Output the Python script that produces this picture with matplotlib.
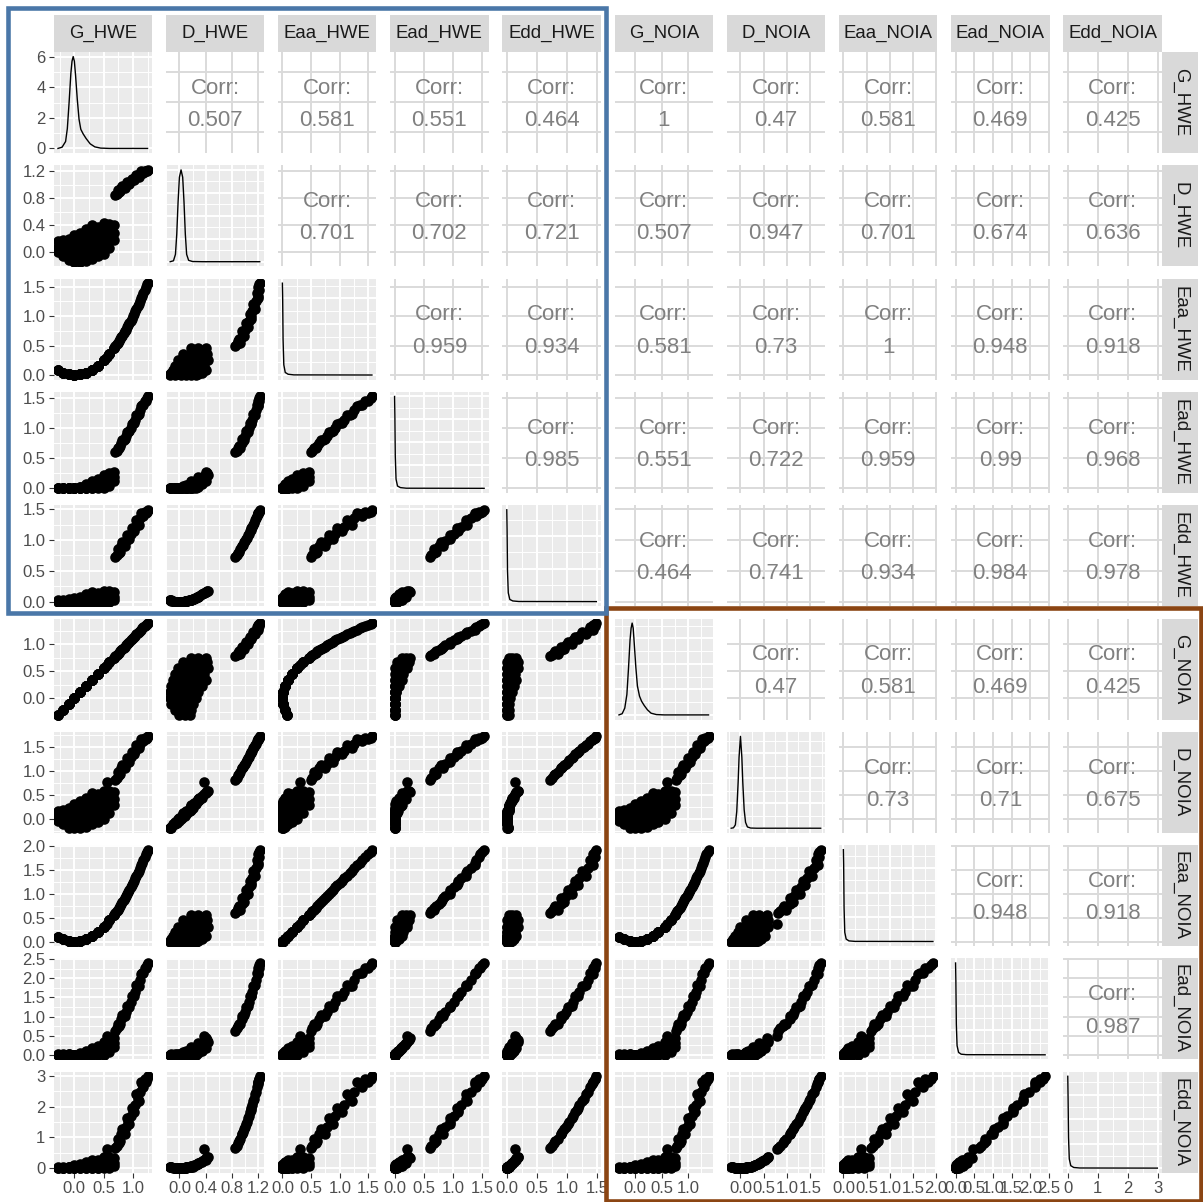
import matplotlib.pyplot as plt
from matplotlib.patches import Rectangle
from matplotlib.ticker import MaxNLocator

plt.rcParams['font.family'] = ['Liberation Sans', 'DejaVu Sans']

var_names = ['G_HWE', 'D_HWE', 'Eaa_HWE', 'Ead_HWE', 'Edd_HWE',
             'G_NOIA', 'D_NOIA', 'Eaa_NOIA', 'Ead_NOIA', 'Edd_NOIA']

# sampled rows: main cluster (first 54), then the high group (29 rows)
G_HWE = [-0.28, -0.28, -0.28,
         -0.2, -0.2, -0.2, -0.2,
         -0.1, -0.1, -0.1, -0.1, -0.1,
         0.0, 0.0, 0.0, 0.0, 0.0, 0.0,
         0.1, 0.1, 0.1, 0.1, 0.1, 0.1,
         0.2, 0.2, 0.2, 0.2, 0.2, 0.2,
         0.3, 0.3, 0.3, 0.3, 0.3, 0.3,
         0.4, 0.4, 0.4, 0.4, 0.4,
         0.5, 0.5, 0.5, 0.5, 0.5,
         0.6, 0.6, 0.6, 0.6,
         0.68, 0.68, 0.68, 0.55,
         0.70, 0.74, 0.78, 0.82, 0.86, 0.90, 0.94, 0.98, 1.02, 1.06, 1.10, 1.14, 1.18, 1.22, 1.25,
         0.72, 0.76, 0.80, 0.84, 0.88, 0.92, 0.96, 1.00, 1.04, 1.08, 1.12, 1.16, 1.20, 1.24]
D_HWE = [0.00, 0.08, 0.16,
         -0.06, 0.02, 0.10, 0.18,
         -0.12, -0.04, 0.04, 0.12, 0.20,
         -0.14, -0.06, 0.02, 0.10, 0.18, 0.25,
         -0.14, -0.06, 0.03, 0.12, 0.21, 0.29,
         -0.13, -0.04, 0.05, 0.14, 0.24, 0.34,
         -0.10, 0.00, 0.10, 0.20, 0.30, 0.40,
         -0.06, 0.05, 0.16, 0.27, 0.38,
         -0.02, 0.10, 0.22, 0.34, 0.43,
         0.06, 0.18, 0.30, 0.42,
         0.18, 0.28, 0.40, 0.38,
         0.85, 0.92, 0.90, 0.98, 0.95, 1.04, 1.01, 1.09, 1.07, 1.15, 1.12, 1.20, 1.18, 1.20, 1.22,
         0.87, 0.89, 0.95, 0.96, 0.99, 1.02, 1.05, 1.08, 1.10, 1.13, 1.16, 1.19, 1.21, 1.21]
Eaa_HWE = [0.08, 0.08, 0.08,
           0.04, 0.04, 0.04, 0.04,
           0.01, 0.01, 0.01, 0.01, 0.01,
           0.00, 0.00, 0.00, 0.00, 0.00, 0.00,
           0.01, 0.01, 0.01, 0.01, 0.01, 0.01,
           0.04, 0.04, 0.04, 0.04, 0.04, 0.04,
           0.09, 0.09, 0.09, 0.09, 0.09, 0.09,
           0.16, 0.16, 0.16, 0.16, 0.16,
           0.25, 0.25, 0.25, 0.25, 0.25,
           0.36, 0.36, 0.36, 0.36,
           0.46, 0.46, 0.46, 0.30,
           0.49, 0.55, 0.61, 0.67, 0.74, 0.81, 0.88, 0.96, 1.04, 1.12, 1.21, 1.30, 1.39, 1.49, 1.56,
           0.52, 0.58, 0.64, 0.71, 0.77, 0.85, 0.92, 1.00, 1.08, 1.17, 1.25, 1.35, 1.44, 1.54]
Ead_HWE = [0.00, 0.00, 0.00,
           0.01, 0.00, 0.00, 0.00,
           0.01, 0.00, 0.00, 0.00, 0.00,
           0.00, 0.00, 0.00, 0.00, 0.00, 0.00,
           0.00, 0.00, 0.00, 0.01, 0.02, 0.03,
           0.00, 0.00, 0.01, 0.03, 0.05, 0.07,
           0.00, 0.00, 0.03, 0.06, 0.09, 0.12,
           0.00, 0.02, 0.06, 0.11, 0.15,
           0.00, 0.05, 0.11, 0.17, 0.22,
           0.04, 0.11, 0.18, 0.25,
           0.12, 0.19, 0.27, 0.21,
           0.60, 0.68, 0.70, 0.80, 0.82, 0.94, 0.95, 1.07, 1.09, 1.22, 1.23, 1.37, 1.39, 1.46, 1.53,
           0.63, 0.68, 0.76, 0.81, 0.87, 0.94, 1.01, 1.08, 1.14, 1.22, 1.30, 1.38, 1.45, 1.50]
Edd_HWE = [0.00, 0.01, 0.03,
           0.00, 0.00, 0.01, 0.03,
           0.01, 0.00, 0.00, 0.01, 0.04,
           0.02, 0.00, 0.00, 0.01, 0.03, 0.06,
           0.02, 0.00, 0.00, 0.01, 0.04, 0.08,
           0.02, 0.00, 0.00, 0.02, 0.06, 0.12,
           0.01, 0.00, 0.01, 0.04, 0.09, 0.16,
           0.00, 0.00, 0.03, 0.07, 0.14,
           0.00, 0.01, 0.05, 0.12, 0.18,
           0.00, 0.03, 0.09, 0.18,
           0.03, 0.08, 0.16, 0.14,
           0.72, 0.85, 0.81, 0.96, 0.90, 1.08, 1.02, 1.19, 1.14, 1.32, 1.25, 1.44, 1.39, 1.44, 1.49,
           0.76, 0.79, 0.90, 0.92, 0.98, 1.04, 1.10, 1.17, 1.21, 1.28, 1.35, 1.42, 1.46, 1.46]
G_NOIA = [-0.31, -0.31, -0.31,
          -0.22, -0.22, -0.22, -0.22,
          -0.11, -0.11, -0.11, -0.11, -0.11,
          0.00, 0.00, 0.00, 0.00, 0.00, 0.00,
          0.11, 0.11, 0.11, 0.11, 0.11, 0.11,
          0.22, 0.22, 0.22, 0.22, 0.22, 0.22,
          0.33, 0.33, 0.33, 0.33, 0.33, 0.33,
          0.44, 0.44, 0.44, 0.44, 0.44,
          0.56, 0.56, 0.56, 0.56, 0.56,
          0.67, 0.67, 0.67, 0.67,
          0.75, 0.75, 0.75, 0.61,
          0.78, 0.82, 0.87, 0.91, 0.95, 1.00, 1.04, 1.09, 1.13, 1.18, 1.22, 1.27, 1.31, 1.35, 1.39,
          0.80, 0.84, 0.89, 0.93, 0.98, 1.02, 1.07, 1.11, 1.15, 1.20, 1.24, 1.29, 1.33, 1.38]
D_NOIA = [-0.05, 0.06, 0.16,
          -0.12, -0.01, 0.09, 0.19,
          -0.19, -0.08, 0.02, 0.13, 0.23,
          -0.20, -0.10, 0.01, 0.11, 0.21, 0.31,
          -0.19, -0.09, 0.03, 0.15, 0.26, 0.37,
          -0.17, -0.05, 0.07, 0.18, 0.31, 0.44,
          -0.12, 0.01, 0.14, 0.27, 0.40, 0.53,
          -0.06, 0.09, 0.23, 0.37, 0.51,
          0.00, 0.16, 0.32, 0.47, 0.59,
          0.12, 0.27, 0.43, 0.59,
          0.28, 0.41, 0.57, 0.78,
          0.81, 0.98, 0.93, 1.13, 1.06, 1.28, 1.20, 1.40, 1.35, 1.55, 1.48, 1.68, 1.63, 1.68, 1.73,
          0.86, 0.91, 1.06, 1.08, 1.16, 1.23, 1.30, 1.38, 1.43, 1.50, 1.58, 1.65, 1.70, 1.70]
Eaa_NOIA = [0.10, 0.10, 0.10,
            0.05, 0.05, 0.05, 0.05,
            0.01, 0.01, 0.01, 0.01, 0.01,
            0.00, 0.00, 0.00, 0.00, 0.00, 0.00,
            0.01, 0.01, 0.01, 0.01, 0.01, 0.01,
            0.05, 0.05, 0.05, 0.05, 0.05, 0.05,
            0.11, 0.11, 0.11, 0.11, 0.11, 0.11,
            0.19, 0.19, 0.19, 0.19, 0.19,
            0.31, 0.31, 0.31, 0.31, 0.31,
            0.45, 0.45, 0.45, 0.45,
            0.56, 0.56, 0.56, 0.37,
            0.60, 0.67, 0.75, 0.83, 0.91, 1.00, 1.09, 1.18, 1.28, 1.38, 1.49, 1.60, 1.72, 1.83, 1.93,
            0.64, 0.71, 0.79, 0.87, 0.95, 1.04, 1.14, 1.23, 1.33, 1.44, 1.55, 1.66, 1.77, 1.89]
Ead_NOIA = [0.02, 0.00, 0.00,
            0.03, 0.00, 0.00, 0.00,
            0.02, 0.01, 0.00, 0.00, 0.00,
            0.00, 0.00, 0.00, 0.00, 0.00, 0.00,
            0.00, 0.00, 0.00, 0.02, 0.03, 0.04,
            0.00, 0.00, 0.02, 0.04, 0.07, 0.10,
            0.00, 0.00, 0.05, 0.09, 0.13, 0.17,
            0.00, 0.04, 0.10, 0.16, 0.22,
            0.00, 0.09, 0.18, 0.26, 0.33,
            0.08, 0.18, 0.29, 0.40,
            0.21, 0.31, 0.43, 0.48,
            0.63, 0.80, 0.81, 1.03, 1.01, 1.28, 1.26, 1.53, 1.53, 1.83, 1.81, 2.12, 2.13, 2.27, 2.40,
            0.69, 0.76, 0.94, 1.01, 1.13, 1.26, 1.39, 1.53, 1.65, 1.80, 1.96, 2.13, 2.27, 2.34]
Edd_NOIA = [0.00, 0.00, 0.03,
            0.01, 0.00, 0.01, 0.04,
            0.04, 0.01, 0.00, 0.02, 0.05,
            0.04, 0.01, 0.00, 0.01, 0.04, 0.09,
            0.04, 0.01, 0.00, 0.02, 0.07, 0.14,
            0.03, 0.00, 0.00, 0.03, 0.10, 0.19,
            0.01, 0.00, 0.02, 0.07, 0.16, 0.28,
            0.00, 0.01, 0.05, 0.14, 0.26,
            0.00, 0.03, 0.10, 0.22, 0.35,
            0.01, 0.07, 0.18, 0.35,
            0.08, 0.17, 0.32, 0.61,
            0.65, 0.96, 0.87, 1.28, 1.11, 1.64, 1.45, 1.97, 1.83, 2.41, 2.19, 2.82, 2.65, 2.82, 2.99,
            0.73, 0.83, 1.11, 1.17, 1.33, 1.51, 1.70, 1.90, 2.04, 2.26, 2.49, 2.73, 2.90, 2.89]

# density curves on the diagonal (x in variable units, y = density)
dens_G_HWE_x = [-0.28, -0.21, -0.15, -0.12, -0.09, -0.06, -0.04, -0.02, 0.0, 0.02, 0.05, 0.08,
                0.11, 0.15, 0.2, 0.27, 0.35, 0.45, 0.6, 1.25]
dens_G_HWE_y = [0.0, 0.08, 0.45, 1.3, 3.0, 4.9, 5.7, 6.0, 5.7, 4.8, 3.2, 1.9,
                1.25, 0.95, 0.65, 0.3, 0.1, 0.02, 0.0, 0.0]
dens_D_HWE_x = [-0.14, -0.09, -0.06, -0.04, -0.02, 0.0, 0.025, 0.05, 0.07, 0.09, 0.11, 0.14,
                0.2, 0.35, 1.22]
dens_D_HWE_y = [0.0, 0.1, 0.8, 3.0, 6.5, 9.2, 10.0, 9.2, 6.5, 3.0, 0.8, 0.15, 0.02, 0.0, 0.0]
dens_Eaa_HWE_x = [0.0, 0.005, 0.012, 0.025, 0.05, 0.1, 0.2, 1.56]
dens_Eaa_HWE_y = [36.0, 30.0, 14.0, 4.0, 1.0, 0.3, 0.05, 0.0]
dens_Ead_HWE_x = [0.0, 0.005, 0.012, 0.025, 0.05, 0.1, 0.2, 1.53]
dens_Ead_HWE_y = [40.0, 32.0, 14.0, 4.0, 1.0, 0.3, 0.05, 0.0]
dens_Edd_HWE_x = [0.0, 0.005, 0.012, 0.025, 0.05, 0.1, 0.2, 1.49]
dens_Edd_HWE_y = [42.0, 33.0, 14.0, 4.0, 1.0, 0.3, 0.05, 0.0]
dens_G_NOIA_x = [-0.31, -0.25, -0.2, -0.16, -0.13, -0.1, -0.08, -0.06, -0.04, -0.02, 0.01, 0.04,
                 0.08, 0.12, 0.17, 0.23, 0.3, 0.4, 0.55, 1.39]
dens_G_NOIA_y = [0.0, 0.07, 0.4, 1.2, 2.7, 4.4, 5.1, 5.4, 5.1, 4.2, 2.8, 1.7,
                 1.1, 0.8, 0.55, 0.3, 0.1, 0.02, 0.0, 0.0]
dens_D_NOIA_x = [-0.20, -0.15, -0.11, -0.08, -0.05, -0.03, 0.0, 0.03, 0.05, 0.08, 0.11, 0.15,
                 0.22, 0.35, 1.73]
dens_D_NOIA_y = [0.0, 0.05, 0.4, 2.0, 5.5, 8.5, 11.0, 8.5, 5.5, 2.2, 0.7, 0.15, 0.02, 0.0, 0.0]
dens_Eaa_NOIA_x = [0.0, 0.006, 0.015, 0.03, 0.06, 0.12, 0.25, 1.93]
dens_Eaa_NOIA_y = [30.0, 25.0, 11.0, 3.0, 0.8, 0.2, 0.04, 0.0]
dens_Ead_NOIA_x = [0.0, 0.008, 0.02, 0.04, 0.08, 0.15, 0.3, 2.40]
dens_Ead_NOIA_y = [30.0, 24.0, 10.0, 3.0, 0.8, 0.2, 0.04, 0.0]
dens_Edd_NOIA_x = [0.0, 0.01, 0.025, 0.05, 0.1, 0.2, 0.4, 2.99]
dens_Edd_NOIA_y = [30.0, 23.0, 10.0, 3.0, 0.8, 0.2, 0.04, 0.0]

# axis breaks per variable
ticks_G = [0.0, 0.5, 1.0]
ticks_D_HWE = [0.0, 0.4, 0.8, 1.2]
ticks_E15 = [0.0, 0.5, 1.0, 1.5]
ticks_Eaa_NOIA = [0.0, 0.5, 1.0, 1.5, 2.0]
ticks_Ead_NOIA = [0.0, 0.5, 1.0, 1.5, 2.0, 2.5]
ticks_Edd_NOIA = [0, 1, 2, 3]
dens_ticks_top = [0, 2, 4, 6]

# correlation labels (upper triangle, row by row)
corr_G_HWE = ['0.507', '0.581', '0.551', '0.464', '1', '0.47', '0.581', '0.469', '0.425']
corr_D_HWE = ['0.701', '0.702', '0.721', '0.507', '0.947', '0.701', '0.674', '0.636']
corr_Eaa_HWE = ['0.959', '0.934', '0.581', '0.73', '1', '0.948', '0.918']
corr_Ead_HWE = ['0.985', '0.551', '0.722', '0.959', '0.99', '0.968']
corr_Edd_HWE = ['0.464', '0.741', '0.934', '0.984', '0.978']
corr_G_NOIA = ['0.47', '0.581', '0.469', '0.425']
corr_D_NOIA = ['0.73', '0.71', '0.675']
corr_Eaa_NOIA = ['0.948', '0.918']
corr_Ead_NOIA = ['0.987']

columns = [G_HWE, D_HWE, Eaa_HWE, Ead_HWE, Edd_HWE, G_NOIA, D_NOIA, Eaa_NOIA, Ead_NOIA, Edd_NOIA]
dens = [(dens_G_HWE_x, dens_G_HWE_y), (dens_D_HWE_x, dens_D_HWE_y),
        (dens_Eaa_HWE_x, dens_Eaa_HWE_y), (dens_Ead_HWE_x, dens_Ead_HWE_y),
        (dens_Edd_HWE_x, dens_Edd_HWE_y), (dens_G_NOIA_x, dens_G_NOIA_y),
        (dens_D_NOIA_x, dens_D_NOIA_y), (dens_Eaa_NOIA_x, dens_Eaa_NOIA_y),
        (dens_Ead_NOIA_x, dens_Ead_NOIA_y), (dens_Edd_NOIA_x, dens_Edd_NOIA_y)]
breaks = [ticks_G, ticks_D_HWE, ticks_E15, ticks_E15, ticks_E15,
          ticks_G, ticks_E15, ticks_Eaa_NOIA, ticks_Ead_NOIA, ticks_Edd_NOIA]
corr_rows = [corr_G_HWE, corr_D_HWE, corr_Eaa_HWE, corr_Ead_HWE, corr_Edd_HWE,
             corr_G_NOIA, corr_D_NOIA, corr_Eaa_NOIA, corr_Ead_NOIA]


def fmt(v, var):
    return '%d' % v if var == 'Edd_NOIA' else '%.1f' % v


def limits(vals):
    lo, hi = min(vals), max(vals)
    pad = 0.05 * (hi - lo)
    return lo - pad, hi + pad


def minor_breaks(major, lo, hi):
    step = major[1] - major[0]
    cand = [major[0] - step / 2] + [m + step / 2 for m in major]
    return [c for c in cand if lo <= c <= hi]


W, H = 1203, 1202
fig = plt.figure(figsize=(W / 100, H / 100), dpi=100)
fig.patch.set_facecolor('white')


def px_axes(x0, y0, w, h):
    return fig.add_axes([x0 / W, 1 - (y0 + h) / H, w / W, h / H])


col_x0, col_step, pw = 53.5, 112.2, 98.5
row_y0, row_step, ph = 52.0, 113.3, 101.0
n = len(var_names)
lims = [limits(c) for c in columns]

tick_kw = dict(length=3.6, width=0.8, color='#333333', labelsize=12,
               labelcolor='#4D4D4D', pad=2.2)

for i in range(n):
    for j in range(n):
        ax = px_axes(col_x0 + j * col_step, row_y0 + i * row_step, pw, ph)
        for s in ax.spines.values():
            s.set_visible(False)
        ax.set_axisbelow(True)
        xlo, xhi = lims[j]
        ax.set_xlim(xlo, xhi)
        xt = breaks[j]

        if i < j:
            ylo, yhi = lims[i]
            ax.set_ylim(ylo, yhi)
            ax.set_facecolor('white')
            ax.set_xticks(xt)
            ax.set_yticks(breaks[i])
            ax.grid(True, which='major', color='#DADADA', linewidth=1.4)
            ax.text(0.5, 0.64, 'Corr:', transform=ax.transAxes, ha='center', va='center',
                    fontsize=16, color='#808080')
            ax.text(0.5, 0.32, corr_rows[i][j - i - 1], transform=ax.transAxes,
                    ha='center', va='center', fontsize=16, color='#808080')
        else:
            ax.set_facecolor('#EBEBEB')
            if i == j:
                dx, dy = dens[i]
                ax.plot(dx, dy, color='black', linewidth=1.0)
                dmax = max(dy)
                ylo, yhi = -0.05 * dmax, 1.05 * dmax
                yt = dens_ticks_top if i == 0 else [
                    t for t in MaxNLocator(nbins=4).tick_values(0, dmax) if ylo <= t <= yhi]
            else:
                ax.scatter(columns[j], columns[i], s=58, c='black', linewidths=0)
                ylo, yhi = lims[i]
                yt = breaks[i]
            ax.set_ylim(ylo, yhi)
            ax.set_xticks(xt)
            ax.set_yticks(yt)
            ax.set_xticks(minor_breaks(xt, xlo, xhi), minor=True)
            ax.set_yticks(minor_breaks(yt, ylo, yhi), minor=True)
            ax.grid(True, which='major', color='white', linewidth=1.4)
            ax.grid(True, which='minor', color='white', linewidth=0.7)

        ax.tick_params(which='both', length=0, labelleft=False, labelbottom=False)
        if j == 0:
            ax.tick_params(axis='y', which='major', labelleft=True, **tick_kw)
            if i == 0:
                ax.set_yticklabels([str(t) for t in dens_ticks_top])
            else:
                ax.set_yticklabels([fmt(t, var_names[i]) for t in breaks[i]])
        if i == n - 1:
            ax.tick_params(axis='x', which='major', labelbottom=True, **tick_kw)
            ax.set_xticklabels([fmt(t, var_names[j]) for t in xt])

# facet strips
for j in range(n):
    sx = px_axes(col_x0 + j * col_step, 15, pw, row_y0 - 15)
    sx.set_facecolor('#D9D9D9')
    sx.set_xticks([])
    sx.set_yticks([])
    for s in sx.spines.values():
        s.set_visible(False)
    sx.text(0.5, 0.5, var_names[j], ha='center', va='center', fontsize=13.4,
            color='#1A1A1A', transform=sx.transAxes)
strip_x0 = col_x0 + (n - 1) * col_step + pw + 0.5
for i in range(n):
    sy = px_axes(strip_x0, row_y0 + i * row_step, 36, ph)
    sy.set_facecolor('#D9D9D9')
    sy.set_xticks([])
    sy.set_yticks([])
    for s in sy.spines.values():
        s.set_visible(False)
    sy.text(0.5, 0.5, var_names[i], ha='center', va='center', fontsize=13.4,
            color='#1A1A1A', rotation=-90, transform=sy.transAxes)


# highlight frames
def frame(x0, y0, x1, y1, color):
    fig.add_artist(Rectangle((x0 / W, 1 - y1 / H), (x1 - x0) / W, (y1 - y0) / H,
                             transform=fig.transFigure, fill=False, edgecolor=color,
                             linewidth=3.3, zorder=10))


frame(605.5, 607.5, 1200.5, 1200.5, '#8B4513')
frame(7.5, 7.5, 605.5, 613.0, '#4A77A8')

fig.savefig('out.png', dpi=100)
